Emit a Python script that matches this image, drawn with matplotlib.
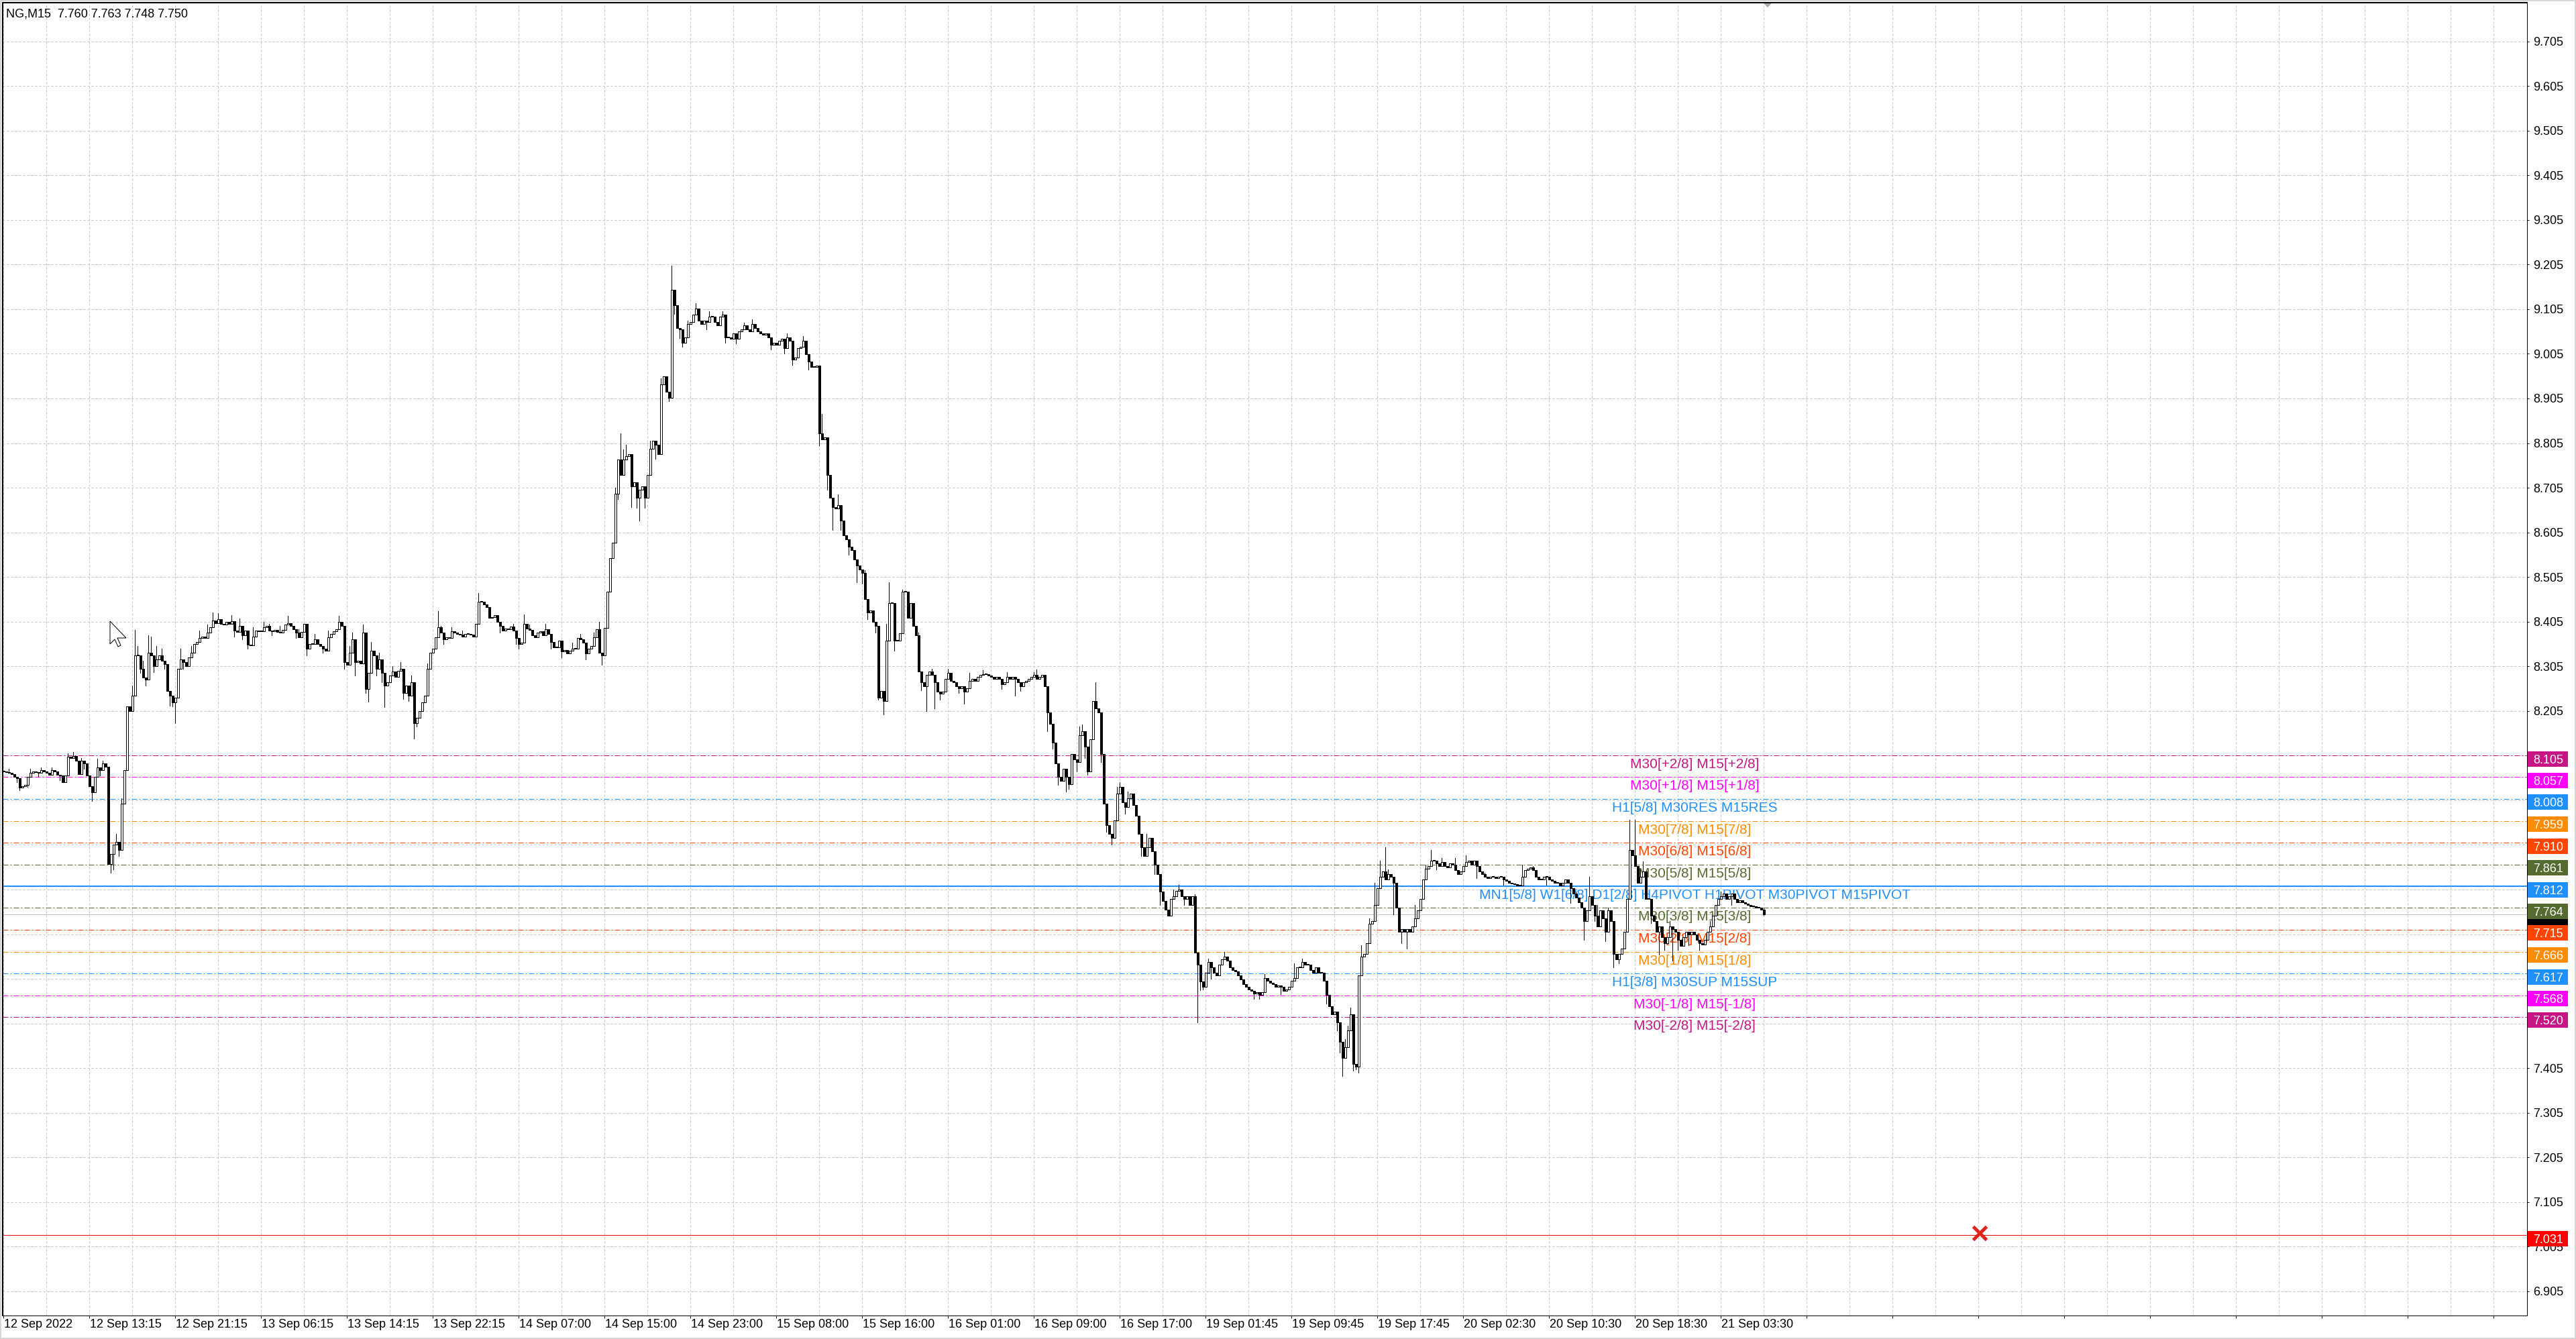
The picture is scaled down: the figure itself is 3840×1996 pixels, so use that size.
"""
plot.py
-------
NG,M15 candle chart with Murrey-math style level lines (MT4 look).
"""

import numpy as np
import matplotlib
matplotlib.use("Agg")
import matplotlib.pyplot as plt
from matplotlib import transforms
from matplotlib.patches import Rectangle, Polygon

plt.rcParams["font.family"] = ["Liberation Sans", "DejaVu Sans"]
plt.rcParams["lines.scale_dashes"] = False

# ──────────────────────────────────────────────────────────────────────────────
# Data
# ──────────────────────────────────────────────────────────────────────────────

HEADER = "NG,M15  7.760 7.763 7.748 7.750"

close = [
    8.070, 8.068, 8.066, 8.064, 8.058, 8.055, 8.033, 8.036, 8.040, 8.058, 8.066, 8.069, 8.068, 8.066, 8.072, 8.070,
    8.066, 8.062, 8.072, 8.070, 8.062, 8.060, 8.046, 8.060, 8.103, 8.100, 8.104, 8.093, 8.063, 8.093, 8.088, 8.060,
    8.036, 8.023, 8.058, 8.078, 8.072, 8.088, 8.080, 7.862, 7.885, 7.905, 7.912, 7.893, 7.998, 8.073, 8.215, 8.205,
    8.240, 8.330, 8.330, 8.300, 8.280, 8.275, 8.335, 8.330, 8.305, 8.320, 8.330, 8.318, 8.310, 8.250, 8.240, 8.225,
    8.235, 8.300, 8.320, 8.315, 8.305, 8.325, 8.335, 8.355, 8.360, 8.368, 8.372, 8.368, 8.380, 8.392, 8.408, 8.402,
    8.410, 8.400, 8.398, 8.404, 8.400, 8.406, 8.385, 8.382, 8.395, 8.375, 8.385, 8.354, 8.352, 8.372, 8.385, 8.384,
    8.384, 8.392, 8.396, 8.385, 8.384, 8.386, 8.382, 8.380, 8.386, 8.398, 8.402, 8.395, 8.388, 8.380, 8.370, 8.382,
    8.400, 8.345, 8.355, 8.355, 8.365, 8.355, 8.350, 8.345, 8.340, 8.370, 8.378, 8.383, 8.388, 8.404, 8.395, 8.314,
    8.308, 8.335, 8.365, 8.315, 8.318, 8.312, 8.380, 8.255, 8.290, 8.340, 8.330, 8.300, 8.320, 8.290, 8.262, 8.270,
    8.285, 8.293, 8.282, 8.295, 8.300, 8.245, 8.262, 8.240, 8.270, 8.178, 8.190, 8.205, 8.225, 8.240, 8.300, 8.335,
    8.345, 8.370, 8.392, 8.380, 8.365, 8.370, 8.368, 8.384, 8.380, 8.378, 8.376, 8.372, 8.378, 8.377, 8.376, 8.372,
    8.400, 8.450, 8.450, 8.444, 8.438, 8.413, 8.415, 8.420, 8.405, 8.395, 8.385, 8.390, 8.388, 8.394, 8.385, 8.369,
    8.355, 8.358, 8.400, 8.390, 8.386, 8.375, 8.370, 8.380, 8.384, 8.375, 8.388, 8.378, 8.360, 8.348, 8.348, 8.362,
    8.338, 8.342, 8.334, 8.340, 8.344, 8.345, 8.368, 8.366, 8.358, 8.334, 8.345, 8.350, 8.370, 8.388, 8.336, 8.330,
    8.391, 8.472, 8.548, 8.582, 8.692, 8.768, 8.734, 8.768, 8.776, 8.780, 8.708, 8.717, 8.683, 8.700, 8.708, 8.683,
    8.734, 8.793, 8.810, 8.801, 8.780, 8.937, 8.954, 8.920, 8.907, 9.148, 9.114, 9.063, 9.059, 9.030, 9.042, 9.072,
    9.076, 9.093, 9.106, 9.080, 9.072, 9.080, 9.076, 9.089, 9.089, 9.076, 9.068, 9.089, 9.093, 9.042, 9.042, 9.038,
    9.051, 9.038, 9.055, 9.059, 9.068, 9.059, 9.055, 9.072, 9.063, 9.055, 9.051, 9.047, 9.051, 9.042, 9.025, 9.030,
    9.025, 9.034, 9.038, 9.017, 9.042, 9.034, 8.992, 8.996, 9.017, 9.021, 9.034, 9.004, 8.987, 8.975, 8.975, 8.979,
    8.827, 8.814, 8.818, 8.734, 8.683, 8.662, 8.658, 8.666, 8.632, 8.599, 8.590, 8.573, 8.565, 8.544, 8.531, 8.522,
    8.514, 8.455, 8.425, 8.430, 8.404, 8.396, 8.235, 8.250, 8.227, 8.362, 8.446, 8.446, 8.362, 8.362, 8.379, 8.472,
    8.472, 8.413, 8.446, 8.396, 8.375, 8.294, 8.269, 8.260, 8.286, 8.294, 8.286, 8.269, 8.248, 8.244, 8.248, 8.277,
    8.290, 8.273, 8.269, 8.260, 8.256, 8.260, 8.248, 8.256, 8.273, 8.277, 8.273, 8.282, 8.286, 8.288, 8.288, 8.284,
    8.282, 8.277, 8.282, 8.277, 8.265, 8.269, 8.282, 8.277, 8.282, 8.277, 8.269, 8.260, 8.269, 8.273, 8.277, 8.282,
    8.286, 8.277, 8.282, 8.286, 8.260, 8.201, 8.176, 8.134, 8.087, 8.058, 8.049, 8.075, 8.058, 8.041, 8.108, 8.096,
    8.091, 8.151, 8.159, 8.125, 8.070, 8.142, 8.227, 8.210, 8.201, 8.108, 7.998, 7.950, 7.930, 7.920, 7.960, 8.020,
    8.035, 8.000, 7.990, 8.010, 8.020, 7.995, 7.970, 7.930, 7.900, 7.880, 7.900, 7.920, 7.890, 7.860, 7.840, 7.800,
    7.780, 7.760, 7.747, 7.784, 7.790, 7.802, 7.805, 7.790, 7.784, 7.790, 7.771, 7.790, 7.664, 7.636, 7.599, 7.587,
    7.618, 7.642, 7.630, 7.618, 7.612, 7.636, 7.649, 7.655, 7.646, 7.630, 7.624, 7.621, 7.612, 7.603, 7.593, 7.587,
    7.581, 7.578, 7.572, 7.575, 7.569, 7.575, 7.606, 7.600, 7.596, 7.593, 7.587, 7.590, 7.587, 7.578, 7.581, 7.587,
    7.600, 7.606, 7.630, 7.630, 7.642, 7.636, 7.636, 7.624, 7.618, 7.630, 7.618, 7.618, 7.600, 7.569, 7.544, 7.526,
    7.532, 7.507, 7.464, 7.428, 7.452, 7.489, 7.526, 7.415, 7.409, 7.612, 7.655, 7.661, 7.685, 7.728, 7.734, 7.771,
    7.808, 7.833, 7.845, 7.827, 7.839, 7.833, 7.820, 7.765, 7.710, 7.716, 7.710, 7.716, 7.710, 7.722, 7.741, 7.759,
    7.784, 7.827, 7.851, 7.857, 7.870, 7.870, 7.863, 7.857, 7.866, 7.857, 7.854, 7.863, 7.860, 7.848, 7.839, 7.845,
    7.857, 7.866, 7.870, 7.860, 7.870, 7.857, 7.845, 7.839, 7.833, 7.830, 7.833, 7.833, 7.830, 7.833, 7.833, 7.827,
    7.824, 7.820, 7.819, 7.817, 7.814, 7.814, 7.833, 7.848, 7.851, 7.854, 7.848, 7.833, 7.827, 7.827, 7.833, 7.833,
    7.827, 7.824, 7.820, 7.820, 7.814, 7.820, 7.827, 7.820, 7.808, 7.796, 7.787, 7.777, 7.765, 7.734, 7.759, 7.790,
    7.771, 7.747, 7.722, 7.759, 7.741, 7.710, 7.759, 7.734, 7.661, 7.649, 7.661, 7.673, 7.710, 7.784, 7.894, 7.882,
    7.857, 7.820, 7.833, 7.845, 7.784, 7.784, 7.747, 7.734, 7.710, 7.722, 7.698, 7.685, 7.698, 7.722, 7.716, 7.710,
    7.692, 7.679, 7.698, 7.710, 7.704, 7.710, 7.704, 7.692, 7.685, 7.682, 7.692, 7.710, 7.722, 7.747, 7.771, 7.784,
    7.790, 7.796, 7.784, 7.790, 7.796, 7.784, 7.777, 7.781, 7.777, 7.774, 7.771, 7.768, 7.768, 7.765, 7.764, 7.760,
    7.750,
]

# (bar, price) of wicks that stick out beyond the candle body
hi_wicks = [
    (2, 8.075), (10, 8.075), (14, 8.078), (18, 8.078), (24, 8.110), (26, 8.113), (29, 8.100),
    (35, 8.098), (37, 8.093), (42, 7.930), (44, 8.010), (48, 8.262), (49, 8.386), (50, 8.350),
    (52, 8.318), (54, 8.375), (55, 8.372), (57, 8.350), (59, 8.345), (66, 8.345), (70, 8.350),
    (73, 8.385), (76, 8.398), (78, 8.426), (80, 8.424), (85, 8.420), (88, 8.412), (93, 8.392),
    (97, 8.404), (99, 8.400), (103, 8.395), (106, 8.418), (110, 8.388), (116, 8.378), (121, 8.385),
    (125, 8.418), (129, 8.350), (130, 8.380), (134, 8.399), (137, 8.360), (140, 8.335), (145, 8.305),
    (148, 8.315), (152, 8.285), (158, 8.312), (162, 8.429), (163, 8.395), (167, 8.392), (171, 8.385),
    (177, 8.469), (181, 8.435), (184, 8.418), (190, 8.400), (194, 8.421), (196, 8.398), (202, 8.400),
    (212, 8.358), (215, 8.378), (220, 8.380), (222, 8.404), (228, 8.705), (230, 8.827), (231, 8.790),
    (232, 8.801), (241, 8.810), (245, 8.950), (249, 9.203), (251, 9.085), (255, 9.080), (258, 9.118),
    (259, 9.100), (263, 9.100), (268, 9.101), (276, 9.075), (279, 9.082), (292, 9.050), (298, 9.045),
    (305, 8.870), (308, 8.720), (311, 8.690), (321, 8.520), (329, 8.400), (330, 8.493), (335, 8.476),
    (337, 8.460), (341, 8.380), (346, 8.300), (352, 8.300), (360, 8.290), (365, 8.296), (374, 8.292),
    (384, 8.292), (385, 8.298), (401, 8.170), (402, 8.175), (407, 8.269), (415, 8.035), (416, 8.045),
    (419, 8.025), (426, 7.930), (436, 7.805), (438, 7.815), (444, 7.795), (449, 7.650), (455, 7.665),
    (470, 7.615), (481, 7.640), (484, 7.650), (500, 7.470), (501, 7.500), (502, 7.540), (506, 7.680),
    (509, 7.740), (511, 7.820), (513, 7.869), (515, 7.900), (516, 7.850), (520, 7.730), (526, 7.770),
    (530, 7.860), (532, 7.894), (536, 7.875), (541, 7.875), (545, 7.882), (552, 7.842), (566, 7.860),
    (570, 7.858), (586, 7.800), (591, 7.833), (594, 7.770), (598, 7.765), (606, 7.962), (608, 7.962),
    (610, 7.850), (611, 7.868), (612, 7.820), (621, 7.735), (636, 7.735), (640, 7.800), (656, 7.763),
]
lo_wicks = [
    (5, 8.045), (6, 8.028), (9, 8.035), (13, 8.058), (21, 8.050), (30, 8.075), (33, 8.003),
    (36, 8.060), (40, 7.842), (41, 7.850), (43, 7.880), (51, 8.290), (53, 8.262), (56, 8.292),
    (60, 8.300), (62, 8.216), (63, 8.215), (64, 8.178), (67, 8.300), (71, 8.340), (86, 8.372),
    (89, 8.365), (91, 8.345), (100, 8.374), (109, 8.368), (113, 8.330), (119, 8.335), (127, 8.300),
    (131, 8.285), (135, 8.245), (136, 8.226), (139, 8.285), (141, 8.270), (142, 8.213), (149, 8.232),
    (151, 8.228), (153, 8.143), (154, 8.170), (164, 8.355), (185, 8.380), (191, 8.355), (192, 8.345),
    (204, 8.345), (208, 8.325), (217, 8.320), (223, 8.309), (229, 8.680), (234, 8.662), (236, 8.660),
    (237, 8.632), (239, 8.660), (243, 8.770), (248, 8.899), (250, 9.095), (252, 9.040), (253, 9.020),
    (262, 9.060), (269, 9.030), (273, 9.028), (286, 9.015), (291, 9.005), (294, 8.980), (300, 8.970),
    (304, 8.800), (307, 8.700), (309, 8.611), (312, 8.610), (315, 8.555), (318, 8.493), (320, 8.490),
    (322, 8.410), (325, 8.380), (326, 8.231), (328, 8.197), (332, 8.340), (342, 8.252), (344, 8.205),
    (347, 8.210), (349, 8.230), (356, 8.245), (358, 8.222), (372, 8.255), (377, 8.239), (379, 8.250),
    (389, 8.159), (391, 8.120), (393, 8.040), (396, 8.024), (397, 8.030), (400, 8.070), (403, 8.100),
    (404, 8.062), (409, 8.090), (411, 7.935), (413, 7.905), (418, 7.975), (424, 7.880), (429, 7.840),
    (431, 7.770), (440, 7.770), (445, 7.507), (446, 7.580), (447, 7.581), (450, 7.605), (462, 7.598),
    (466, 7.560), (468, 7.560), (476, 7.570), (493, 7.550), (497, 7.490), (498, 7.440), (499, 7.388),
    (503, 7.400), (504, 7.403), (505, 7.395), (518, 7.750), (521, 7.685), (523, 7.673), (527, 7.740),
    (534, 7.850), (549, 7.830), (559, 7.815), (575, 7.815), (584, 7.775), (589, 7.692), (593, 7.735),
    (597, 7.690), (600, 7.630), (602, 7.640), (614, 7.730), (617, 7.660), (619, 7.670), (622, 7.645),
    (624, 7.670), (628, 7.680), (632, 7.670), (644, 7.770), (656, 7.748),
]

time_labels = [
    "12 Sep 2022", "12 Sep 13:15", "12 Sep 21:15", "13 Sep 06:15", "13 Sep 14:15",
    "13 Sep 22:15", "14 Sep 07:00", "14 Sep 15:00", "14 Sep 23:00", "15 Sep 08:00",
    "15 Sep 16:00", "16 Sep 01:00", "16 Sep 09:00", "16 Sep 17:00", "19 Sep 01:45",
    "19 Sep 09:45", "19 Sep 17:45", "20 Sep 02:30", "20 Sep 10:30", "20 Sep 18:30",
    "21 Sep 03:30",
]
BARS_PER_LABEL = 32

levels = [8.105, 8.057, 8.008, 7.959, 7.910, 7.861, 7.812,
          7.764, 7.715, 7.666, 7.617, 7.568, 7.520]
level_colors = ["#C71585", "#FF00FF", "#1E90FF", "#FF8C00", "#FF4500", "#556B2F", "#1E90FF",
                "#556B2F", "#FF4500", "#FF8C00", "#1E90FF", "#FF00FF", "#C71585"]
level_texts = [
    "M30[+2/8] M15[+2/8]", "M30[+1/8] M15[+1/8]", "H1[5/8] M30RES M15RES",
    "M30[7/8] M15[7/8]", "M30[6/8] M15[6/8]", "M30[5/8] M15[5/8]",
    "MN1[5/8] W1[6/8] D1[2/8] H4PIVOT H1PIVOT M30PIVOT M15PIVOT",
    "M30[3/8] M15[3/8]", "M30[2/8] M15[2/8]", "M30[1/8] M15[1/8]",
    "H1[3/8] M30SUP M15SUP", "M30[-1/8] M15[-1/8]", "M30[-2/8] M15[-2/8]",
]
PIVOT = 7.812
BID = 7.750
ALERT = 7.031
MARK_BAR, MARK_PRICE = 736.5, 7.036

# ──────────────────────────────────────────────────────────────────────────────
# Layout (pixels of the 3840x1996 canvas)
# ──────────────────────────────────────────────────────────────────────────────

W, H, DPI = 3840, 1996, 100
PX = 72.0 / DPI                     # one pixel in points
AX_L, AX_R, AX_T, AX_B = 4, 3767, 4, 1961
BAR_PX = 4
PPU = 665.5                         # pixels per 1.000 of price
X_MIN = -0.25
X_MAX = X_MIN + (AX_R - AX_L) / BAR_PX
Y_TOP = 9.7915
Y_BOT = Y_TOP - (AX_B - AX_T) / PPU
LABEL_BAR = 630.25
GRID = "#C4C4C4"
FS = 13


def px_fig(x, y):
    return x / W, 1 - y / H


fig = plt.figure(figsize=(W / DPI, H / DPI), dpi=DPI)
ax = fig.add_axes([AX_L / W, 1 - AX_B / H, (AX_R - AX_L) / W, (AX_B - AX_T) / H])
ax.set_xlim(X_MIN, X_MAX)
ax.set_ylim(Y_BOT, Y_TOP)

# ── grid & axes ───────────────────────────────────────────────────────────────
yt = np.round(np.arange(6.905, 9.71, 0.1), 3)
ax.set_yticks(yt)
ax.set_yticklabels([f"{v:.3f}" for v in yt])
ax.yaxis.tick_right()
ax.tick_params(axis="y", direction="out", length=3 * PX, width=PX, pad=6 * PX,
               labelsize=FS, colors="black")

xt = np.arange(0, X_MAX, BARS_PER_LABEL)
ax.set_xticks(xt)
ax.set_xticklabels(time_labels + [""] * (len(xt) - len(time_labels)),
                   ha="left")
ax.set_xticks(np.arange(BARS_PER_LABEL // 2, X_MAX, BARS_PER_LABEL), minor=True)
ax.tick_params(axis="x", which="major", direction="out", length=4 * PX, width=PX,
               pad=1, labelsize=FS)
ax.tick_params(axis="x", which="minor", length=0)
for lab in ax.get_xticklabels():
    lab.set_transform(lab.get_transform() + transforms.ScaledTranslation(1 / DPI, 0, fig.dpi_scale_trans))

ax.grid(True, which="both", axis="x", color=GRID, lw=PX, dashes=(3 * PX, 3 * PX))
ax.grid(True, which="major", axis="y", color=GRID, lw=PX, dashes=(3 * PX, 3 * PX))
ax.set_axisbelow(True)
for side, lw in (("left", 2), ("top", 2), ("right", 1), ("bottom", 1)):
    ax.spines[side].set_linewidth(lw * PX)
    ax.spines[side].set_color("black")

# ── level lines, labels and price boxes ───────────────────────────────────────
ytrans = ax.get_yaxis_transform()
ax_w = AX_R - AX_L
text_off = transforms.offset_copy(ax.transData, fig=fig, x=0, y=-4, units="dots")


def price_box(price, color, zorder=20, show_text=True):
    h = 23 / PPU
    ax.add_patch(Rectangle((1 + 1 / ax_w, price - 5 / PPU - h / 2), 60 / ax_w, h,
                           transform=ytrans, facecolor=color, edgecolor="none",
                           clip_on=False, zorder=zorder))
    if show_text:
        ax.text(1 + 9 / ax_w, price - 5 / PPU, f"{price:.3f}", transform=ytrans,
                color="white", fontsize=FS, va="center_baseline", ha="left",
                clip_on=False, zorder=zorder + 0.5)


# bid line; its label sits hidden under the 7.764 box
ax.axhline(BID, color="#C0C0C0", lw=PX, zorder=2)
price_box(BID, "black", zorder=19, show_text=False)

for lvl, col, txt in zip(levels, level_colors, level_texts):
    if lvl == PIVOT:
        ax.axhline(lvl, color=col, lw=2 * PX, zorder=2)
    else:
        ax.axhline(lvl, color=col, lw=PX, dashes=(8 * PX, 3 * PX, 2 * PX, 3 * PX), zorder=2)
    ax.text(LABEL_BAR, lvl, txt, transform=text_off, color=col, fontsize=15,
            ha="center", va="top", zorder=3)
    price_box(lvl, col)

ax.axhline(ALERT, color="#FF0000", lw=PX, zorder=2)
price_box(ALERT, "#FF0000")
ax.plot([MARK_BAR], [MARK_PRICE], marker="x", ms=20 * PX, mew=5 * PX,
        color="#E3241B", zorder=6)

# ── candles ───────────────────────────────────────────────────────────────────
c = np.array(close)
o = np.r_[c[0], c[:-1]]
hi = np.maximum(o, c)
lo = np.minimum(o, c)
for b, v in hi_wicks:
    hi[b] = max(hi[b], v)
for b, v in lo_wicks:
    lo[b] = min(lo[b], v)
x = np.arange(len(c))
body_lo = np.minimum(o, c)
body_h = np.maximum(np.abs(c - o), 1.0 / PPU)
face = np.where(c >= o, "white", "black")

ax.vlines(x, lo, hi, color="black", lw=PX, zorder=7, antialiased=False)
ax.bar(x, body_h, bottom=body_lo, width=0.75, color=face, edgecolor="black",
       linewidth=PX, zorder=8, antialiased=False)

# ── header, cursor and frame decorations ─────────────────────────────────────
fig.text(*px_fig(9, 26), HEADER, fontsize=FS, va="baseline", ha="left")

cursor = [(0, 0), (0, 34), (7, 27), (12, 38), (16, 36), (11, 25), (24, 25)]
fig.patches.append(Polygon([px_fig(164 + dx, 926 + dy) for dx, dy in cursor],
                           closed=True, facecolor="white", edgecolor="black",
                           lw=PX, transform=fig.transFigure, zorder=30))
fig.patches.append(Polygon([px_fig(2629, 5), px_fig(2641, 5), px_fig(2635, 11)],
                           closed=True, facecolor="#A8A8A8", edgecolor="none",
                           transform=fig.transFigure, zorder=30))
fig.patches.append(Rectangle((0, 0), 1, 1, transform=fig.transFigure,
                             facecolor="none", edgecolor="#D6D6D6", lw=4 * PX,
                             zorder=0))

fig.savefig("out.png", dpi=DPI)
plt.close(fig)
